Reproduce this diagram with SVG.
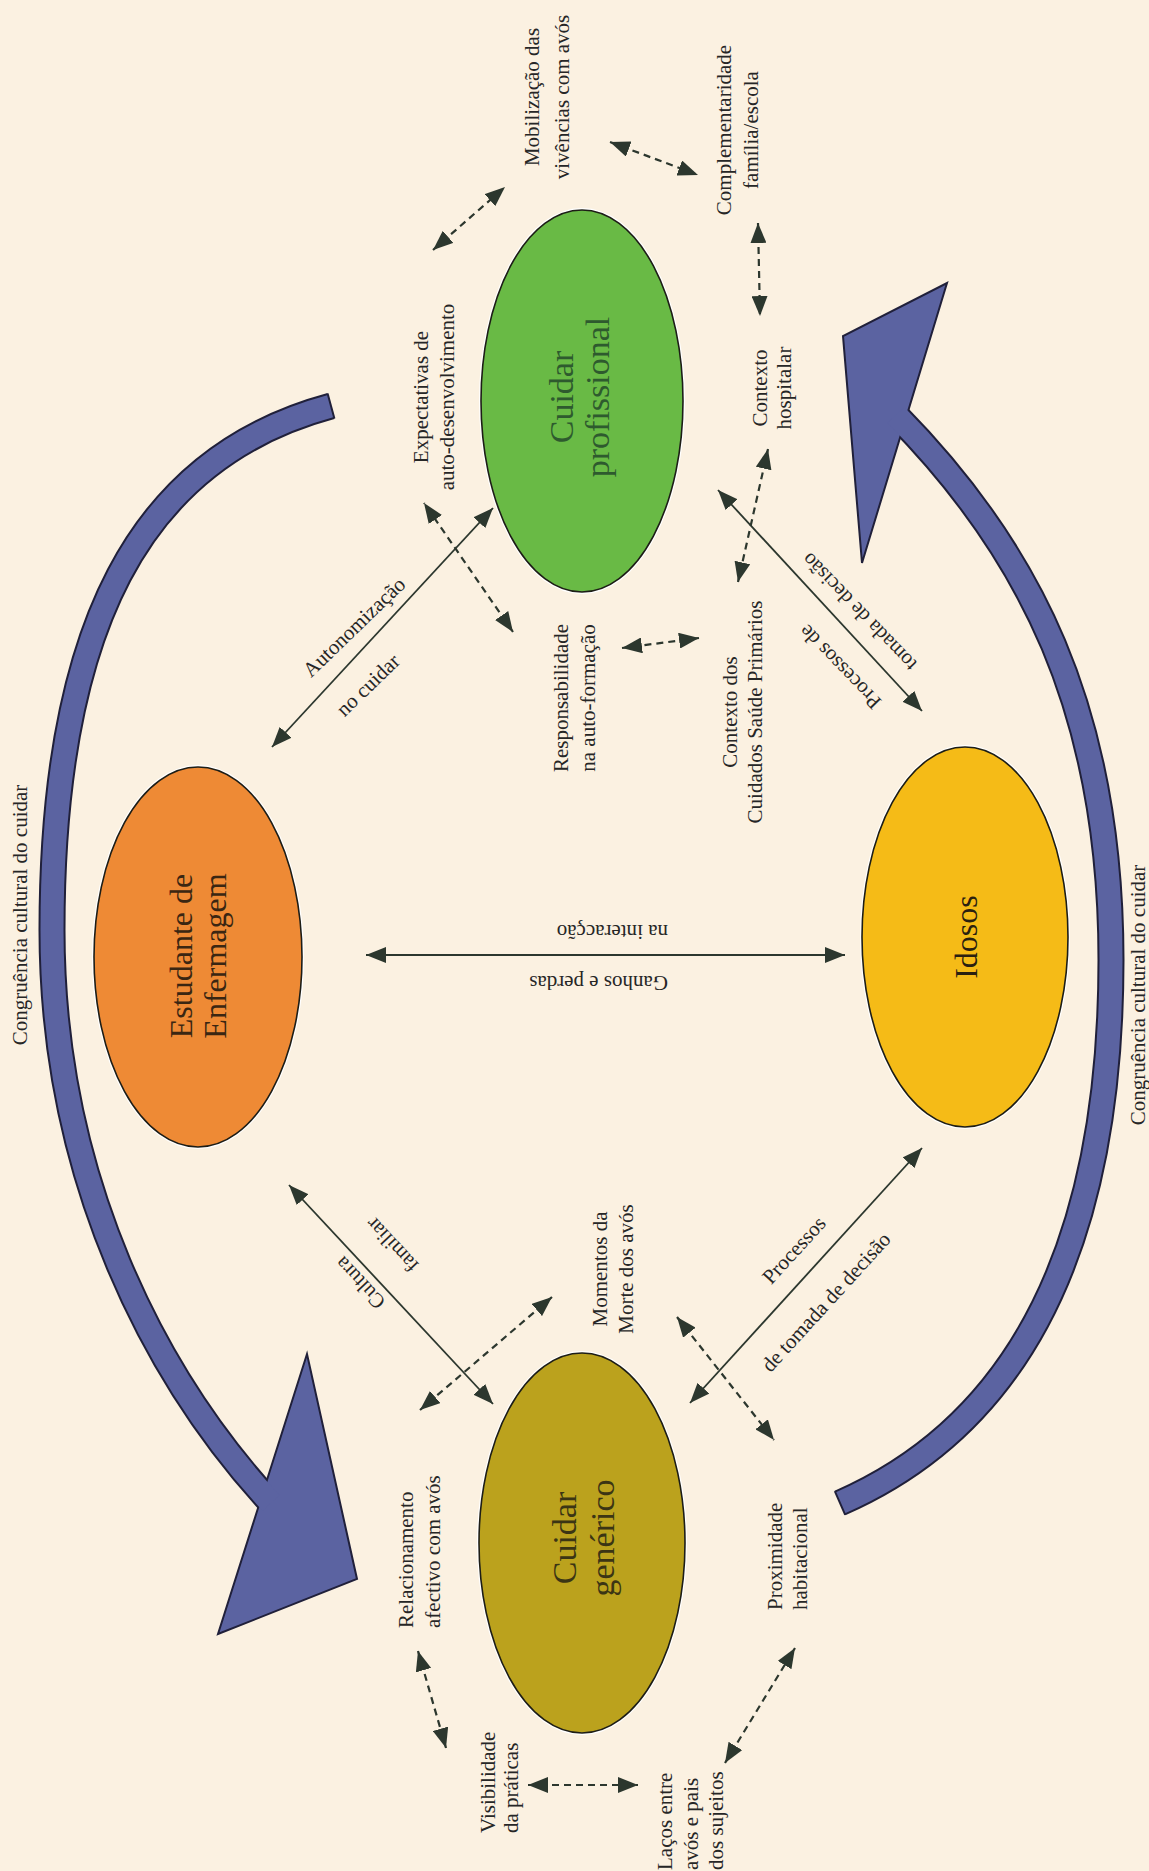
<svg xmlns="http://www.w3.org/2000/svg" width="1149" height="1871" viewBox="0 0 1149 1871">
<defs>
<style>
.bg{fill:#FBF1E1}
.t{font-family:"Liberation Serif","Times New Roman",serif;font-size:21px;fill:#262626}
.nt{font-family:"Liberation Serif","Times New Roman",serif}
.c{stroke:#2c372e;stroke-width:1.8;fill:none;marker-start:url(#ah);marker-end:url(#ah)}
.d{stroke-dasharray:7 5;stroke-width:2.2}
.halo{fill:none;stroke:#ffffff;stroke-width:4}
.ell{stroke:#1d1d16;stroke-width:1.6}
.arcO{fill:none;stroke:#20203a;stroke-width:27}
.arcI{fill:none;stroke:#5B63A1;stroke-width:23}
.head{fill:#5B63A1;stroke:#20203a;stroke-width:2;stroke-linejoin:miter}
.cap{stroke:#20203a;stroke-width:2}
</style>
<marker id="ah" viewBox="0 0 20 16" refX="20" refY="8" markerWidth="20" markerHeight="16" markerUnits="userSpaceOnUse" orient="auto-start-reverse"><path d="M0,0 L20,8 L0,16 Z" fill="#2c372e"/></marker>
</defs>
<rect class="bg" x="0" y="0" width="1149" height="1871"/>

<g id="arc-left">
<path class="arcO" d="M331,406 C138,458 52,630 52,930 C52,1180 156,1378 271,1503"/>
<polygon class="head" points="218,1634 307,1354 357,1579"/>
<path class="arcI" d="M331,406 C138,458 52,630 52,930 C52,1180 156,1378 271,1503"/>
<line class="cap" x1="327.6" y1="393.4" x2="334.4" y2="418.6"/>
</g>
<g id="arc-right">
<path class="arcO" d="M840,1503 C1023,1423 1111,1240 1111,960 C1111,710 1029,550 896,415"/>
<polygon class="head" points="862,563 947,283 843,336"/>
<path class="arcI" d="M840,1503 C1023,1423 1111,1240 1111,960 C1111,710 1029,550 896,415"/>
<line class="cap" x1="834.8" y1="1491.1" x2="845.2" y2="1514.9"/>
</g>
<text class="t" text-anchor="middle" transform="translate(27,915) rotate(-90)">Congruência cultural do cuidar</text>
<text class="t" text-anchor="middle" transform="translate(1145,995) rotate(-90)">Congruência cultural do cuidar</text>

<g id="connectors">
<line class="c" x1="272" y1="747" x2="493" y2="508"/>
<line class="c" x1="718" y1="490" x2="922" y2="711"/>
<line class="c" x1="366" y1="955" x2="845" y2="955"/>
<line class="c" x1="289" y1="1185" x2="493" y2="1404"/>
<line class="c" x1="690" y1="1403" x2="922" y2="1148"/>
<line class="c d" x1="433" y1="250" x2="505" y2="187"/>
<line class="c d" x1="610" y1="142" x2="698" y2="175"/>
<line class="c d" x1="758" y1="223" x2="760" y2="316"/>
<line class="c d" x1="768" y1="449" x2="738" y2="582"/>
<line class="c d" x1="699" y1="638" x2="622" y2="648"/>
<line class="c d" x1="513" y1="632" x2="424" y2="503"/>
<line class="c d" x1="552" y1="1297" x2="420" y2="1410"/>
<line class="c d" x1="677" y1="1317" x2="774" y2="1440"/>
<line class="c d" x1="418" y1="1651" x2="446" y2="1748"/>
<line class="c d" x1="528" y1="1785" x2="638" y2="1785"/>
<line class="c d" x1="725" y1="1763" x2="795" y2="1648"/>
</g>

<g id="connector-labels">
<text class="t" text-anchor="middle" y="7" transform="translate(354,627) rotate(-44)">Autonomização</text>
<text class="t" text-anchor="middle" y="7" transform="translate(368,685) rotate(-44)">no cuidar</text>
<text class="t" text-anchor="middle" y="7" transform="translate(840,667) rotate(-134)">Processos de</text>
<text class="t" text-anchor="middle" y="7" transform="translate(859,612) rotate(-134)">tomada de decisão</text>
<text class="t" y="7" transform="translate(668,932) rotate(180)">na interacção</text>
<text class="t" y="7" transform="translate(668,983) rotate(180)">Ganhos e perdas</text>
<text class="t" text-anchor="middle" y="7" transform="translate(360,1283) rotate(-133)">Cultura</text>
<text class="t" text-anchor="middle" y="7" transform="translate(392,1245) rotate(-133)">familiar</text>
<text class="t" text-anchor="middle" y="7" transform="translate(794,1250) rotate(-47.6)">Processos</text>
<text class="t" text-anchor="middle" y="7" transform="translate(826,1302) rotate(-47.6)">de tomada de decisão</text>
</g>

<g id="node-estudante">
<ellipse class="halo" cx="198" cy="957" rx="104" ry="190"/>
<ellipse class="ell" cx="198" cy="957" rx="104" ry="190" fill="#EE8A35"/>
<text class="nt" font-size="32" fill="#3a2612" text-anchor="middle" transform="translate(192,956) rotate(-90)"><tspan x="0" y="0">Estudante de</tspan><tspan x="0" y="34">Enfermagem</tspan></text>
</g>
<g id="node-idosos">
<ellipse class="halo" cx="965" cy="937" rx="103" ry="190"/>
<ellipse class="ell" cx="965" cy="937" rx="103" ry="190" fill="#F5BB17"/>
<text class="nt" font-size="32" fill="#2a2010" text-anchor="middle" transform="translate(977,937) rotate(-90)">Idosos</text>
</g>
<g id="node-profissional">
<ellipse class="halo" cx="582" cy="401" rx="101" ry="191"/>
<ellipse class="ell" cx="582" cy="401" rx="101" ry="191" fill="#69BA45"/>
<text class="nt" font-size="34" fill="#2E5A2E" text-anchor="middle" transform="translate(573,397) rotate(-90)"><tspan x="0" y="0">Cuidar</tspan><tspan x="0" y="36">profissional</tspan></text>
</g>
<g id="node-generico">
<ellipse class="halo" cx="582" cy="1543" rx="103" ry="190"/>
<ellipse class="ell" cx="582" cy="1543" rx="103" ry="190" fill="#BBA21D"/>
<text class="nt" font-size="34" fill="#3b3514" text-anchor="middle" transform="translate(576,1538) rotate(-90)"><tspan x="0" y="0">Cuidar</tspan><tspan x="0" y="38">genérico</tspan></text>
</g>

<g id="label-mobilizacao"><text class="t" text-anchor="middle" transform="translate(539,97) rotate(-90)"><tspan x="0" y="0">Mobilização das</tspan><tspan x="0" y="30">vivências com avós</tspan></text></g>
<g id="label-complementaridade"><text class="t" text-anchor="middle" transform="translate(731,130) rotate(-90)"><tspan x="0" y="0">Complementaridade</tspan><tspan x="0" y="27">família/escola</tspan></text></g>
<g id="label-expectativas"><text class="t" text-anchor="middle" transform="translate(428,397) rotate(-90)"><tspan x="0" y="0">Expectativas de</tspan><tspan x="0" y="26">auto-desenvolvimento</tspan></text></g>
<g id="label-hospitalar"><text class="t" text-anchor="middle" transform="translate(767,388) rotate(-90)"><tspan x="0" y="0">Contexto</tspan><tspan x="0" y="24">hospitalar</tspan></text></g>
<g id="label-responsabilidade"><text class="t" text-anchor="middle" transform="translate(568,698) rotate(-90)"><tspan x="0" y="0">Responsabilidade</tspan><tspan x="0" y="27">na auto-formação</tspan></text></g>
<g id="label-csp"><text class="t" text-anchor="middle" transform="translate(737,712) rotate(-90)"><tspan x="0" y="0">Contexto dos</tspan><tspan x="0" y="25">Cuidados Saúde Primários</tspan></text></g>
<g id="label-momentos"><text class="t" text-anchor="middle" transform="translate(607,1269) rotate(-90)"><tspan x="0" y="0">Momentos da</tspan><tspan x="0" y="26">Morte dos avós</tspan></text></g>
<g id="label-relacionamento"><text class="t" transform="translate(413,1628) rotate(-90)"><tspan x="0" y="0">Relacionamento</tspan><tspan x="0" y="27">afectivo com avós</tspan></text></g>
<g id="label-proximidade"><text class="t" transform="translate(782,1610) rotate(-90)"><tspan x="0" y="0">Proximidade</tspan><tspan x="0" y="25">habitacional</tspan></text></g>
<g id="label-visibilidade"><text class="t" transform="translate(495,1833) rotate(-90)"><tspan x="0" y="0">Visibilidade</tspan><tspan x="0" y="23">da práticas</tspan></text></g>
<g id="label-lacos"><text class="t" transform="translate(672,1870) rotate(-90)"><tspan x="0" y="0">Laços entre</tspan><tspan x="0" y="26">avós e pais</tspan><tspan x="0" y="51">dos sujeitos</tspan></text></g>
</svg>
